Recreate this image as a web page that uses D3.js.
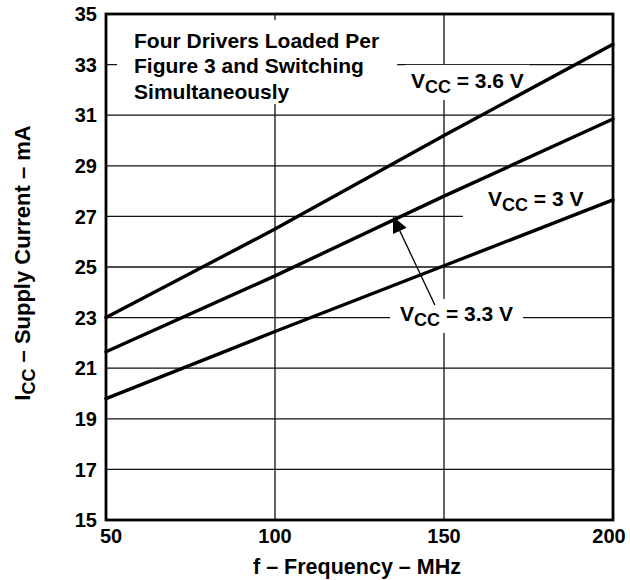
<!DOCTYPE html>
<html>
<head>
<meta charset="utf-8">
<script src="https://cdn.jsdelivr.net/npm/d3@7"></script>
<style>
  body { margin: 0; background: #fff; }
  svg { display: block; font-family: "Liberation Sans", Arial, sans-serif; font-weight: bold; }
</style>
</head>
<body>
<svg id="chart"></svg>
<script>
// frequency (MHz) and supply current (mA)
const freq = [50, 100, 150, 200];
const icc36 = [23.0, 26.5, 30.2, 33.8];
const icc33 = [21.65, 24.65, 27.8, 30.85];
const icc30 = [19.8, 22.45, 25.05, 27.65];

const xTicks = [50, 100, 150, 200];
const yTicks = [15, 17, 19, 21, 23, 25, 27, 29, 31, 33, 35];
const noteLines = ["Four Drivers Loaded Per", "Figure 3 and Switching", "Simultaneously"];

const width = 630, height = 580;
const margin = {top: 14, right: 17, bottom: 60, left: 106};

const svg = d3.select("#chart")
    .attr("width", width)
    .attr("height", height);

const x = d3.scaleLinear().domain([50, 200]).range([margin.left, width - margin.right]);
const y = d3.scaleLinear().domain([15, 35]).range([height - margin.bottom, margin.top]);

// grid
const grid = svg.append("g")
    .attr("stroke", "#111")
    .attr("stroke-width", 1.3);

grid.selectAll("line.h")
    .data(yTicks.slice(1, -1))
    .enter().append("line")
    .attr("x1", x(50)).attr("x2", x(200))
    .attr("y1", d => y(d)).attr("y2", d => y(d));

grid.selectAll("line.v")
    .data(xTicks.slice(1, -1))
    .enter().append("line")
    .attr("y1", y(15)).attr("y2", y(35))
    .attr("x1", d => x(d)).attr("x2", d => x(d));

// labels sit on white patches that hide the grid behind them
const masks = svg.append("g");
const labels = svg.append("g").attr("fill", "#000");

function patch(node, pad) {
    const b = node.getBBox();
    masks.append("rect")
        .attr("x", b.x - pad[3])
        .attr("y", b.y - pad[0])
        .attr("width", b.width + pad[1] + pad[3])
        .attr("height", b.height + pad[0] + pad[2])
        .attr("fill", "#fff");
}

const note = labels.append("text")
    .attr("font-size", 21)
    .attr("x", x(58.3))
    .attr("y", y(33.66));
note.selectAll("tspan")
    .data(noteLines)
    .enter().append("tspan")
    .attr("x", x(58.3))
    .attr("dy", (d, i) => i ? 25.5 : 0)
    .text(d => d);
patch(note.node(), [9, 18, 1, 17]);

function vccLabel(f, i, v, pad) {
    const t = labels.append("text")
        .attr("font-size", 21)
        .attr("x", x(f))
        .attr("y", y(i));
    t.append("tspan").text("V");
    t.append("tspan").attr("font-size", 18).attr("dy", 5).text("CC");
    t.append("tspan").attr("dy", -5).text(" = " + v + " V");
    patch(t.node(), pad);
    return t;
}

vccLabel(140.2, 32.08, "3.6", [4, 6, 3, 6]);
vccLabel(163, 27.41, "3", [4, 30, 7, 25]);
vccLabel(137, 22.87, "3.3", [3, 10, 3, 10]);

// curves
const line = d3.line()
    .x((d, i) => x(freq[i]))
    .y(d => y(d));

svg.append("g")
    .attr("fill", "none")
    .attr("stroke", "#000")
    .attr("stroke-width", 3.4)
    .attr("stroke-linecap", "round")
    .selectAll("path")
    .data([icc36, icc33, icc30])
    .enter().append("path")
    .attr("d", line);

// arrow from the 3.3 V label to its curve
const tip = [x(134.9), y(27.0)];
const tail = [x(147.3), y(23.5)];
const ang = Math.atan2(tip[1] - tail[1], tip[0] - tail[0]);
const hl = 16, hw = 7.5;
const base = [tip[0] - hl * Math.cos(ang), tip[1] - hl * Math.sin(ang)];

svg.append("line")
    .attr("x1", tail[0]).attr("y1", tail[1])
    .attr("x2", base[0]).attr("y2", base[1])
    .attr("stroke", "#000")
    .attr("stroke-width", 1.3);

svg.append("path")
    .attr("fill", "#000")
    .attr("d", d3.line()([
        tip,
        [base[0] + hw * Math.sin(ang), base[1] - hw * Math.cos(ang)],
        [base[0] - hw * Math.sin(ang), base[1] + hw * Math.cos(ang)]
    ]) + "Z");

// frame
svg.append("rect")
    .attr("x", x(50)).attr("y", y(35))
    .attr("width", x(200) - x(50))
    .attr("height", y(15) - y(35))
    .attr("fill", "none")
    .attr("stroke", "#000")
    .attr("stroke-width", 2.8);

// tick labels
svg.append("g")
    .attr("font-size", 20)
    .attr("text-anchor", "end")
    .selectAll("text")
    .data(yTicks)
    .enter().append("text")
    .attr("x", x(50) - 9)
    .attr("y", d => y(d))
    .attr("dy", "0.36em")
    .text(d => d);

svg.append("g")
    .attr("font-size", 20)
    .attr("text-anchor", "middle")
    .selectAll("text")
    .data(xTicks)
    .enter().append("text")
    .attr("x", d => x(d))
    .attr("dx", (d, i) => i === 0 ? 5 : i === xTicks.length - 1 ? -4 : 0)
    .attr("y", y(15) + 23)
    .text(d => d);

// axis titles
svg.append("text")
    .attr("font-size", 21.5)
    .attr("text-anchor", "middle")
    .attr("x", 357)
    .attr("y", 574)
    .text("f \u2013 Frequency \u2013 MHz");

const yt = svg.append("text")
    .attr("font-size", 22)
    .attr("text-anchor", "middle")
    .attr("transform", "translate(30,263) rotate(-90)");
yt.append("tspan").text("I");
yt.append("tspan").attr("font-size", 18).attr("dy", 5).text("CC");
yt.append("tspan").attr("dy", -5).text(" \u2013 Supply Current \u2013 mA");
</script>
</body>
</html>
